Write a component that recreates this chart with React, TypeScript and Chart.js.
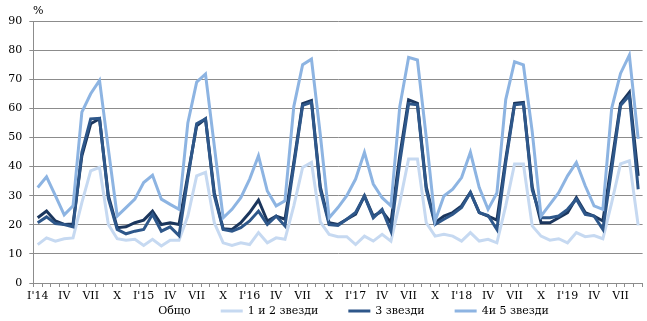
import React, { useEffect, useRef } from "react";
import { Chart, registerables } from "chart.js";

Chart.register(...registerables);

const categories = [
  "2014-01", "2014-02", "2014-03", "2014-04", "2014-05", "2014-06", "2014-07", "2014-08", "2014-09", "2014-10", "2014-11", "2014-12",
  "2015-01", "2015-02", "2015-03", "2015-04", "2015-05", "2015-06", "2015-07", "2015-08", "2015-09", "2015-10", "2015-11", "2015-12",
  "2016-01", "2016-02", "2016-03", "2016-04", "2016-05", "2016-06", "2016-07", "2016-08", "2016-09", "2016-10", "2016-11", "2016-12",
  "2017-01", "2017-02", "2017-03", "2017-04", "2017-05", "2017-06", "2017-07", "2017-08", "2017-09", "2017-10", "2017-11", "2017-12",
  "2018-01", "2018-02", "2018-03", "2018-04", "2018-05", "2018-06", "2018-07", "2018-08", "2018-09", "2018-10", "2018-11", "2018-12",
  "2019-01", "2019-02", "2019-03", "2019-04", "2019-05", "2019-06", "2019-07", "2019-08", "2019-09",
];

const tickLabels = [
  "I'14", "IV", "VII", "X",
  "I'15", "IV", "VII", "X",
  "I'16", "IV", "VII", "X",
  "I'17", "IV", "VII", "X",
  "I'18", "IV", "VII", "X",
  "I'19", "IV", "VII",
];

const total = [
  22.4, 24.7, 21.3, 20.1, 20.3, 43.7, 54.7, 56.4, 30, 19, 19.3, 20.7,
  21.6, 24.7, 20.1, 20.7, 20.1, 37, 54, 56.4, 31, 18.6, 18.4, 20.7,
  24.2, 28.5, 21.3, 23, 21.9, 41.4, 61.6, 62.7, 33, 20.7, 20.1, 21.9,
  23.6, 29.9, 23, 24.7, 20.7, 43.7, 62.9, 61.7, 33, 20.7, 23, 24.2,
  26.5, 31.1, 24.2, 23, 21.6, 42.6, 61.7, 62, 33, 20.7, 20.7, 22.4,
  24.2, 29.3, 24.2, 23, 21.3, 41.4, 61.6, 65.5, 36.8,
];

const stars12 = [
  13.2, 15.5, 14.4, 15.2, 15.5, 27.6, 38.5, 39.7, 20.1, 15.2, 14.7, 15,
  12.9, 15, 12.7, 14.7, 14.7, 23, 36.8, 38, 20.7, 13.8, 12.9, 13.8,
  13.2, 17.3, 13.8, 15.5, 15, 26.5, 39.7, 41.4, 21, 16.7, 15.9, 15.9,
  13.2, 16.1, 14.4, 16.7, 14.4, 27.6, 42.6, 42.6, 20.7, 16.1, 16.7, 16.1,
  14.4, 17.3, 14.4, 15, 13.8, 26.5, 40.9, 40.9, 19.6, 16.1, 14.7, 15.2,
  13.8, 17.3, 15.9, 16.3, 15.2, 27.6, 40.9, 42, 19.8,
];

const stars3 = [
  20.7, 22.7, 20.4, 20.1, 19.3, 44.9, 56.4, 56.6, 29, 18.4, 16.9, 17.8,
  18.4, 23.6, 17.8, 19.3, 16.3, 36, 54.7, 56.4, 30, 18.4, 17.8, 19,
  21.3, 24.7, 20.1, 23, 19.6, 40.3, 61, 62.1, 32, 20.1, 19.8, 21.9,
  24.2, 29.9, 22.4, 25.3, 17.8, 41.4, 61.6, 61.2, 32, 20.1, 21.9, 23.6,
  25.9, 31.1, 24.2, 23.2, 18.4, 41.4, 61.2, 61.6, 32, 22.4, 22.4, 23,
  25.3, 28.8, 23.6, 23, 18.4, 39.1, 61, 64.4, 32.2,
];

const stars45 = [
  32.8, 36.5, 30, 23.4, 26.5, 58.7, 65, 69.6, 46, 23, 25.9, 28.8,
  34.5, 37, 28.8, 27, 25.3, 55, 69, 71.8, 47, 22.4, 25.3, 29.3,
  35.7, 43.7, 31.6, 26.5, 28.2, 60.6, 75, 76.9, 51, 22.4, 25.9, 30,
  35.7, 44.9, 34, 29.3, 26.5, 60.6, 77.5, 76.6, 50, 21.3, 29.9, 32.2,
  36.2, 44.9, 32.8, 25.3, 30.9, 63, 76, 74.9, 52, 23, 27, 31,
  36.8, 41.4, 33.4, 26.5, 25.3, 60, 72, 78.3, 49.5,
];

const seriesNames = ["Общо", "1 и 2 звезди", "3 звезди", "4и 5 звезди"];
const unitLabel = "%";

const FONT = "'DejaVu Serif', serif";
const GRID = "#8c8c8c";
const COLORS = ["#1B365D", "#C6D9F1", "#2E578A", "#8DB4E2"];
const LEGEND_COLORS = ["rgba(0,0,0,0)", "#C6D9F1", "#2E578A", "#8DB4E2"];

export default function App() {
  const ref = useRef<HTMLCanvasElement>(null);

  useEffect(() => {
    if (!ref.current) return;

    const legendPlugin = {
      id: "customLegend",
      afterDraw(chart: any) {
        const ctx = chart.ctx;
        ctx.save();
        ctx.font = `11px ${FONT}`;
        ctx.textBaseline = "middle";
        ctx.textAlign = "left";
        const box = 22;
        const gap = 5;
        const pad = 30;
        const items = chart.data.datasets.map((ds: any, i: number) => ({
          text: ds.label,
          color: LEGEND_COLORS[i],
          w: ctx.measureText(ds.label).width,
        }));
        const totalW =
          items.reduce((s: number, it: any) => s + box + gap + it.w, 0) + pad * (items.length - 1);
        let x = 340 - totalW / 2;
        const y = 311;
        items.forEach((it: any) => {
          ctx.fillStyle = it.color;
          ctx.fillRect(x, y - 1.5, box, 3);
          ctx.fillStyle = "#000";
          ctx.fillText(it.text, x + box + gap, y);
          x += box + gap + it.w + pad;
        });
        ctx.fillText(unitLabel, 33, 11);
        ctx.restore();
      },
    };

    const chart = new Chart(ref.current, {
      type: "line",
      data: {
        labels: categories,
        datasets: [
          { label: seriesNames[0], data: total, borderColor: COLORS[0], order: 4 },
          { label: seriesNames[1], data: stars12, borderColor: COLORS[1], order: 3 },
          { label: seriesNames[2], data: stars3, borderColor: COLORS[2], order: 2 },
          { label: seriesNames[3], data: stars45, borderColor: COLORS[3], order: 1 },
        ].map((d) => ({
          ...d,
          backgroundColor: d.borderColor,
          borderWidth: 3,
          pointRadius: 0,
          pointHoverRadius: 0,
          tension: 0,
          fill: false,
          borderJoinStyle: "miter" as const,
        })),
      },
      options: {
        responsive: false,
        animation: false,
        events: [],
        layout: { padding: { left: 0, right: 4.4, top: 21, bottom: 18 } },
        plugins: {
          legend: { display: false },
          tooltip: { enabled: false },
        },
        scales: {
          x: {
            type: "category",
            offset: true,
            grid: {
              display: true,
              drawOnChartArea: false,
              drawTicks: true,
              tickLength: 4,
              offset: true,
              color: GRID,
            },
            border: { display: true, color: GRID, width: 1 },
            ticks: {
              autoSkip: false,
              maxRotation: 0,
              minRotation: 0,
              padding: 3,
              color: "#000",
              font: { family: FONT, size: 11 },
              callback: (_v: any, i: number) => (i % 3 === 0 ? tickLabels[i / 3] : ""),
            },
            afterFit: (s: any) => {
              s.height = 20;
            },
          },
          y: {
            min: 0,
            max: 90,
            ticks: {
              stepSize: 10,
              padding: 7,
              color: "#000",
              font: { family: FONT, size: 11 },
            },
            grid: { color: GRID, tickLength: 4 },
            border: { display: true, color: GRID, width: 1 },
            afterFit: (s: any) => {
              s.width = 33.3;
            },
          },
        },
      },
      plugins: [legendPlugin],
    });

    return () => chart.destroy();
  }, []);

  return (
    <div style={{ position: "absolute", left: 0, top: 0, width: 647, height: 321, background: "#fff" }}>
      <canvas ref={ref} width={647} height={321} style={{ display: "block" }} />
    </div>
  );
}
